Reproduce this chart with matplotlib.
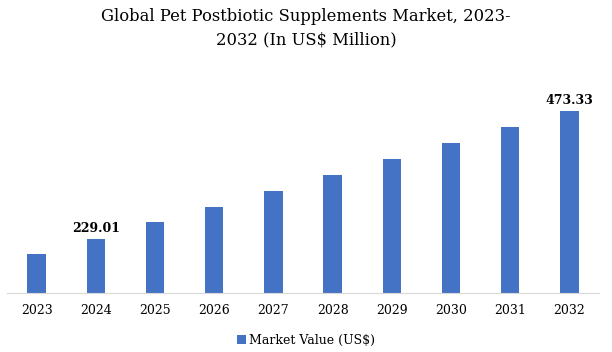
import matplotlib.pyplot as plt

years = ['2023', '2024', '2025', '2026', '2027', '2028', '2029', '2030', '2031', '2032']
values = [200.3, 229.01, 260.9, 290.8, 320.8, 351.4, 381.4, 412.6, 443.2, 473.33]
labelled = {'2024': '229.01', '2032': '473.33'}

plt.rcParams['font.family'] = ['DejaVu Serif']

fig = plt.figure(figsize=(6.12, 3.52), dpi=100)
ax = fig.add_axes([7 / 612, 1 - 293.3 / 352, 592 / 612, 200 / 352])

x = range(len(years))
bars = ax.bar(x, values, width=0.31, color='#4472C4', label='Market Value (US$)')

# value labels only on 2024 and 2032
for i, yr in enumerate(years):
    if yr in labelled:
        ax.text(i, values[i] + 8, labelled[yr], ha='center', va='bottom',
                fontsize=9, fontweight='bold')

ax.set_xlim(-0.5, 9.5)
ax.set_ylim(125.1, 125.1 + 200 * 1.913)
ax.set_xticks(list(x))
ax.set_xticklabels(years, fontsize=9)
ax.tick_params(axis='x', length=0, pad=8)
ax.set_yticks([])
for s in ['top', 'right', 'left']:
    ax.spines[s].set_visible(False)
ax.spines['bottom'].set_color('#D9D9D9')

fig.text(0.5, 1 - 28 / 352, 'Global Pet Postbiotic Supplements Market, 2023-\n2032 (In US$ Million)',
         ha='center', va='center', fontsize=11.8, linespacing=1.45)

fig.legend(loc='center', bbox_to_anchor=(0.5, 1 - 340 / 352), frameon=False,
           fontsize=9, handlelength=0.7, handleheight=0.7, handletextpad=0.3)

fig.savefig('out.png', dpi=100)
